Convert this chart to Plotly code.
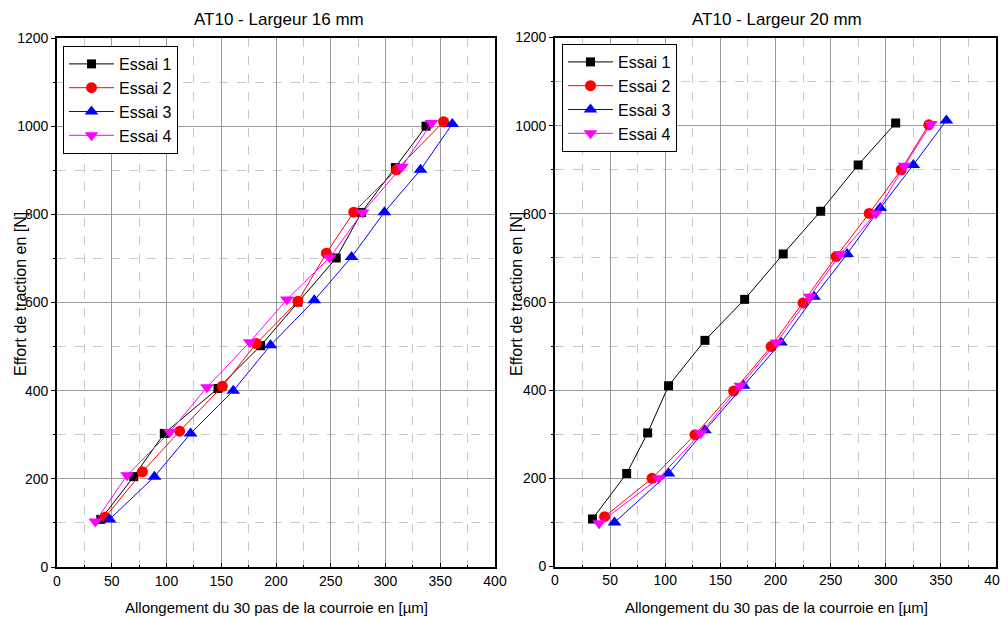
import plotly.graph_objects as go

# ---- data ----
effort_16 = {
    "Essai 1": ([40, 70, 98, 147, 186, 220, 255, 278, 309, 337],
                [108, 205, 303, 405, 502, 601, 701, 804, 906, 1000]),
    "Essai 2": ([44, 78, 112, 151, 182, 220, 246, 271, 310, 353],
                [113, 216, 308, 410, 507, 603, 712, 805, 901, 1010]),
    "Essai 3": ([48, 89, 122, 161, 195, 235, 269, 299, 332, 361],
                [108, 205, 303, 400, 503, 605, 703, 805, 901, 1005]),
    "Essai 4": ([35, 64, 103, 137, 176, 210, 249, 279, 315, 342],
                [103, 208, 306, 408, 510, 607, 702, 804, 908, 1007]),
}
effort_20 = {
    "Essai 1": ([34, 65, 84, 103, 136, 172, 207, 241, 275, 309],
                [108, 211, 303, 410, 513, 606, 709, 806, 911, 1006]),
    "Essai 2": ([45, 88, 127, 162, 196, 225, 255, 285, 314, 339],
                [113, 200, 299, 398, 499, 598, 703, 801, 900, 1002]),
    "Essai 3": ([54, 103, 136, 171, 205, 235, 265, 295, 325, 355],
                [100, 211, 309, 410, 508, 612, 709, 813, 911, 1012]),
    "Essai 4": ([40, 94, 132, 168, 201, 231, 259, 291, 317, 341],
                [98, 200, 302, 410, 508, 612, 709, 801, 909, 1004]),
}
titles = ["AT10 - Largeur 16 mm", "AT10 - Largeur 20 mm"]
x_title = "Allongement du 30 pas de la courroie en [µm]"
y_title = "Effort de traction en [N]"

styles = {
    "Essai 1": dict(color="black", symbol="square", size=9),
    "Essai 2": dict(color="red", symbol="circle", size=11),
    "Essai 3": dict(color="blue", symbol="triangle-up", size=12),
    "Essai 4": dict(color="magenta", symbol="triangle-down", size=12),
}

ARIAL = "Arial, Liberation Sans, sans-serif"

# The page body has an 8px margin, so the figure is drawn 8px in from the
# window corner. Positions below are given in window pixels.
OFF = 8
W, H = 1008 - OFF, 619 - OFF
L, R, T, B = 57 - OFF, 12, 37 - OFF, 52
PW, PH = W - L - R, H - T - B


def px(x):
    return (x - OFF - L) / PW


def py(y):
    return (H - B - (y - OFF)) / PH


def clamp(v):
    return min(1.0, max(0.0, v))


fig = go.Figure()
for i, data in enumerate([effort_16, effort_20]):
    xa = "x" if i == 0 else "x2"
    ya = "y" if i == 0 else "y2"
    lg = "legend" if i == 0 else "legend2"
    for name, (xs, ys) in data.items():
        st = styles[name]
        fig.add_trace(go.Scatter(
            x=xs, y=ys, name=name, mode="lines+markers",
            xaxis=xa, yaxis=ya, legend=lg,
            line=dict(color=st["color"], width=1),
            marker=dict(color=st["color"], symbol=st["symbol"], size=st["size"]),
        ))

axis_common = dict(
    showline=True, linecolor="black", linewidth=1.6, mirror=True,
    tickcolor="black",
    showgrid=True, gridcolor="#9a9a9a", gridwidth=1,
    zeroline=False, automargin=False,
    tickfont=dict(family=ARIAL, size=14, color="black"),
)
xaxis_common = dict(axis_common, range=[0, 400], dtick=50, tick0=0,
                    ticks="inside", ticklen=4,
                    minor=dict(dtick=25, showgrid=True, gridcolor="#c8c8c8",
                               griddash="dash", ticks="inside", ticklen=2,
                               tickcolor="black"))
yaxis_common = dict(axis_common, range=[0, 1200], dtick=200, tick0=0,
                    ticks="outside", ticklen=4,
                    minor=dict(dtick=100, showgrid=True, gridcolor="#c8c8c8",
                               griddash="dash", ticks="outside", ticklen=2,
                               tickcolor="black"))

legend_common = dict(
    bordercolor="black", borderwidth=1, bgcolor="white",
    font=dict(family=ARIAL, size=16, color="black"),
    xanchor="left", yanchor="top", tracegroupgap=0, itemwidth=45,
)

fig.update_layout(
    width=W, height=H,
    margin=dict(l=L, r=R, t=T, b=B),
    paper_bgcolor="white", plot_bgcolor="white",
    showlegend=True,
    xaxis=dict(xaxis_common, domain=[clamp(px(57)), clamp(px(495))], anchor="y"),
    yaxis=dict(yaxis_common, domain=[clamp(py(567.5)), clamp(py(38))], anchor="x"),
    xaxis2=dict(xaxis_common, domain=[clamp(px(555)), clamp(px(996))], anchor="y2"),
    yaxis2=dict(yaxis_common, domain=[clamp(py(566.5)), clamp(py(37.5))], anchor="x2"),
    legend=dict(legend_common, x=px(63), y=py(46)),
    legend2=dict(legend_common, x=px(562), y=py(44)),
)

annotations = []
title_cx = [279, 777]
xt_cx = [276, 776]
yt_cx = [20, 516]
for i in range(2):
    annotations.append(dict(text=titles[i], x=px(title_cx[i]), y=py(20),
                            xref="paper", yref="paper", showarrow=False,
                            xanchor="center", yanchor="middle",
                            font=dict(family=ARIAL, size=17, color="black")))
    annotations.append(dict(text=x_title, x=px(xt_cx[i]), y=py(607),
                            xref="paper", yref="paper", showarrow=False,
                            xanchor="center", yanchor="middle",
                            font=dict(family=ARIAL, size=15, color="black")))
    annotations.append(dict(text=y_title, x=px(yt_cx[i]), y=py(294),
                            xref="paper", yref="paper", showarrow=False,
                            textangle=-90, xanchor="center", yanchor="middle",
                            font=dict(family=ARIAL, size=16, color="black")))
fig.update_layout(annotations=annotations)

fig.write_html("out.html")
